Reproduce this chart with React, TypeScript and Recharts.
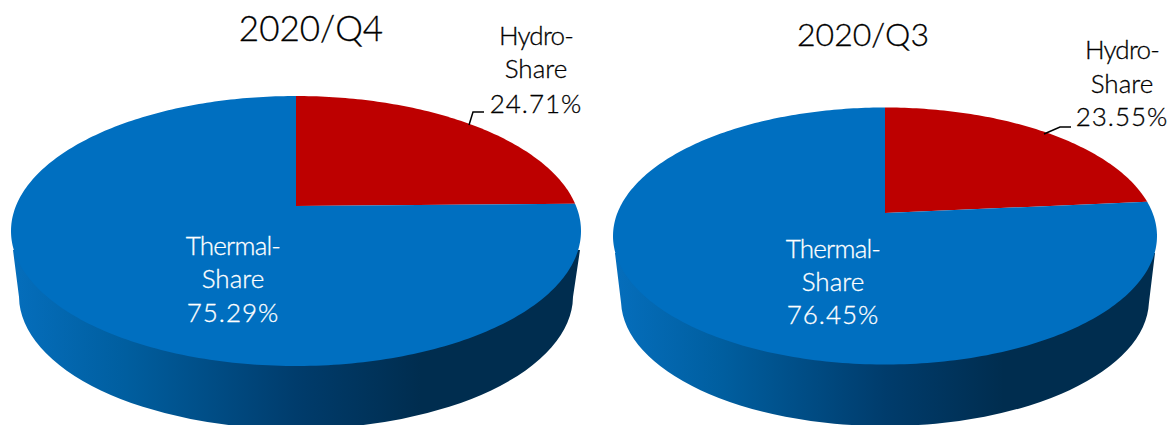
import React from "react";
import { PieChart, Pie } from "recharts";

const CATEGORIES = ["Hydro-Share", "Thermal-Share"];
const Q4_VALUES = [24.71, 75.29];
const Q3_VALUES = [23.55, 76.45];
const TITLES = ["2020/Q4", "2020/Q3"];

const COLORS: Record<string, string> = {
  "Hydro-Share": "#BD0000",
  "Thermal-Share": "#006FC0",
};
const FONT = "Lato, 'Open Sans', sans-serif";

// Tilted disc: rim ellipse, off-centre apex of the perspective, lower rim of the wall.
type Disc = {
  id: string;
  cx: number;
  cy: number;
  rx: number;
  ry: number;
  apex: number;
  wall: { top: number; left: number; right: number; cx: number; cy: number; rx: number; ry: number; drop: number };
  hydro: { x: number; baselines: number[]; leader: string };
  thermal: { x: number; baselines: number[] };
};

const Q4_DISC: Disc = {
  id: "q4",
  cx: 296,
  cy: 231,
  rx: 285,
  ry: 135,
  apex: -25,
  wall: { top: 250, left: 13, right: 580, cx: 296, cy: 296, rx: 277, ry: 133, drop: 297 },
  hydro: { x: 536, baselines: [45, 78, 113], leader: "469,125 473,112 484,112" },
  thermal: { x: 233, baselines: [255, 288, 322] },
};
const Q3_DISC: Disc = {
  id: "q3",
  cx: 885,
  cy: 236,
  rx: 272,
  ry: 128.5,
  apex: -23,
  wall: { top: 253, left: 615, right: 1155, cx: 885, cy: 300, rx: 264, ry: 126, drop: 303 },
  hydro: { x: 1122, baselines: [59, 93, 126], leader: "1044,134 1060,127 1071,127" },
  thermal: { x: 833, baselines: [258, 291, 324] },
};

// Projects a pie angle (degrees, counter-clockwise from 3 o'clock) onto the tilted rim.
function project(d: Disc, angle: number) {
  const t = (angle * Math.PI) / 180;
  const u = Math.cos(t);
  const v = -Math.sin(t);
  const p = d.apex / d.ry;
  const a = d.rx * Math.sqrt(1 - p * p);
  const w = 1 + p * v;
  return { x: d.cx + (a * u) / w, y: d.cy + (d.ry * v + d.apex) / w };
}

function wallPath(d: Disc) {
  const w = d.wall;
  const dyR = w.drop - w.cy;
  const xR = w.cx + w.rx * Math.sqrt(1 - (dyR / w.ry) ** 2);
  const xL = w.cx - w.rx * Math.sqrt(1 - (dyR / w.ry) ** 2);
  return `M${w.right},${w.top} L${xR},${w.drop} A${w.rx},${w.ry} 0 0 1 ${xL},${w.drop} L${w.left},${w.top} Z`;
}

function DiscSlice(props: any, d: Disc) {
  const { startAngle, endAngle, name, fill } = props;
  const steps = Math.max(8, Math.ceil(Math.abs(endAngle - startAngle)));
  let path = `M${d.cx},${d.cy + d.apex}`;
  for (let i = 0; i <= steps; i++) {
    const pt = project(d, startAngle + ((endAngle - startAngle) * i) / steps);
    path += ` L${pt.x.toFixed(2)},${pt.y.toFixed(2)}`;
  }
  path += " Z";
  const gid = `wall-${d.id}`;
  return (
    <g>
      {name === "Thermal-Share" && (
        <>
          <defs>
            <linearGradient id={gid} x1="0" y1="0" x2="1" y2="0">
              <stop offset="0" stopColor="#056EBC" />
              <stop offset="0.2" stopColor="#005E9F" />
              <stop offset="0.5" stopColor="#003C6C" />
              <stop offset="0.72" stopColor="#002D4F" />
              <stop offset="1" stopColor="#002D4F" />
            </linearGradient>
          </defs>
          <path d={wallPath(d)} fill={`url(#${gid})`} />
        </>
      )}
      <path d={path} fill={fill} />
    </g>
  );
}

function SliceLabel(props: any, d: Disc) {
  const { name, value } = props;
  const isHydro = name === "Hydro-Share";
  const spot = isHydro ? d.hydro : d.thermal;
  const [first, second] = name.split("-");
  const lines = [`${first}-`, second, `${value.toFixed(2)}%`];
  const tracking = [-0.8, 0, 1];
  const ink = isHydro ? "#000" : "#fff";
  return (
    <g>
      {isHydro && <polyline points={d.hydro.leader} fill="none" stroke="#000" strokeWidth={1.5} />}
      {lines.map((line: string, i: number) => (
        <text
          key={i}
          x={spot.x}
          y={spot.baselines[i]}
          textAnchor="middle"
          fontFamily={FONT}
          fontWeight={300}
          fontSize={26}
          letterSpacing={tracking[i]}
          fill={ink}
          stroke={ink}
          strokeWidth={0.3}
        >
          {line}
        </text>
      ))}
    </g>
  );
}

const table = (values: number[]) =>
  CATEGORIES.map((name, i) => ({ name, value: values[i], fill: COLORS[name] }));

export default function App() {
  return (
    <div style={{ position: "absolute", left: 0, top: 0, width: 1174, height: 425, overflow: "hidden", background: "#fff" }}>
      <PieChart width={1174} height={425} margin={{ top: 0, right: 0, bottom: 0, left: 0 }}>
        <Pie
          data={table(Q4_VALUES)}
          dataKey="value"
          nameKey="name"
          cx={Q4_DISC.cx}
          cy={Q4_DISC.cy}
          outerRadius={Q4_DISC.rx}
          startAngle={90}
          endAngle={-270}
          stroke="none"
          isAnimationActive={false}
          shape={(p: any) => DiscSlice(p, Q4_DISC)}
          label={(p: any) => SliceLabel(p, Q4_DISC)}
          labelLine={false}
        />
        <Pie
          data={table(Q3_VALUES)}
          dataKey="value"
          nameKey="name"
          cx={Q3_DISC.cx}
          cy={Q3_DISC.cy}
          outerRadius={Q3_DISC.rx}
          startAngle={90}
          endAngle={-270}
          stroke="none"
          isAnimationActive={false}
          shape={(p: any) => DiscSlice(p, Q3_DISC)}
          label={(p: any) => SliceLabel(p, Q3_DISC)}
          labelLine={false}
        />
        <text x={311} y={41} textAnchor="middle" fontFamily={FONT} fontWeight={300} fontSize={35} fill="#000" stroke="#000" strokeWidth={0.3}>
          {TITLES[0]}
        </text>
        <text x={863} y={46} textAnchor="middle" fontFamily={FONT} fontWeight={300} fontSize={32} fill="#000" stroke="#000" strokeWidth={0.3}>
          {TITLES[1]}
        </text>
      </PieChart>
    </div>
  );
}
